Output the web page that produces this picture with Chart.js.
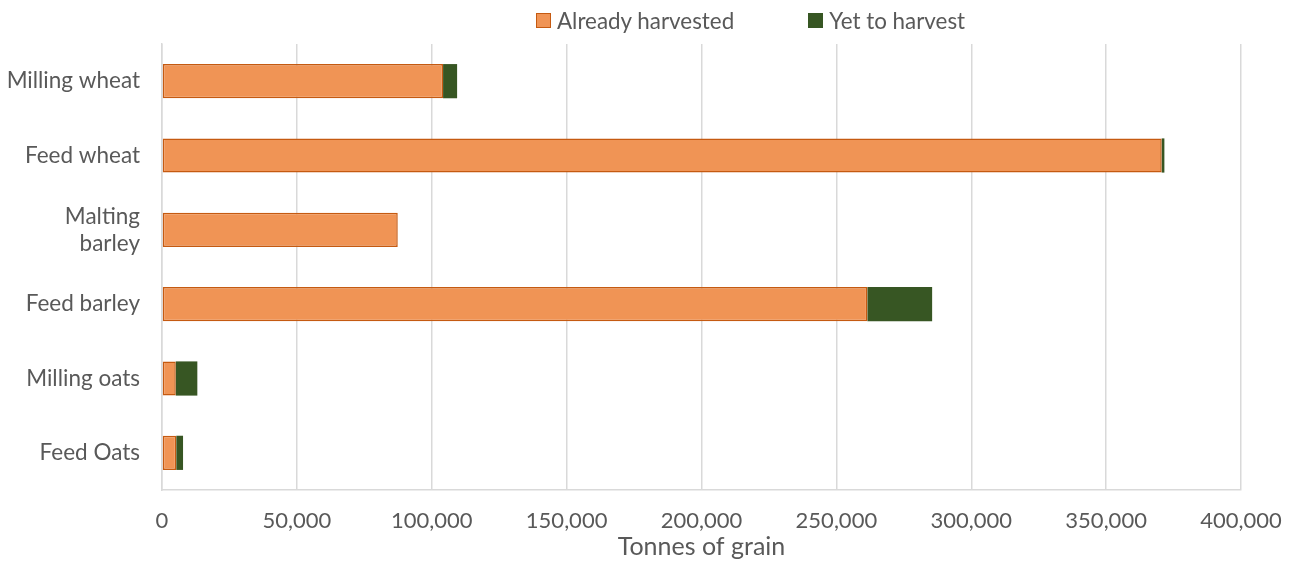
<!DOCTYPE html>
<html>
<head>
<meta charset="utf-8">
<script src="https://cdn.jsdelivr.net/npm/chart.js@4"></script>
<style>
html,body{margin:0;padding:0;background:#fff;}
#wrap{position:relative;width:1293px;height:564px;}
#legend{position:absolute;left:536px;top:7px;display:flex;align-items:center;font-family:Lato,'Liberation Sans',sans-serif;font-size:22.4px;color:#595959;white-space:nowrap;}
#legend .item{display:flex;align-items:center;}
#legend .item + .item{margin-left:74px;}
#legend .box{width:13px;height:13px;margin-right:6px;box-sizing:content-box;}
</style>
</head>
<body>
<div id="wrap"><canvas id="c" width="1293" height="564"></canvas><div id="legend"></div></div>
<script>
const categories = ["Milling wheat", "Feed wheat", ["Malting", "barley"], "Feed barley", "Milling oats", "Feed Oats"];
const alreadyHarvested = [104200, 370600, 87400, 261500, 5100, 5300];
const yetToHarvest = [5200, 1000, 0, 24000, 8000, 2500];
const xTicks = [0, 50000, 100000, 150000, 200000, 250000, 300000, 350000, 400000];
const seriesNames = ["Already harvested", "Yet to harvest"];

const FONT = "Lato, 'Liberation Sans', sans-serif";
const GREY = '#595959';

const chart = new Chart(document.getElementById('c'), {
  type: 'bar',
  data: {
    labels: categories,
    datasets: [
      {
        label: seriesNames[0],
        data: alreadyHarvested,
        backgroundColor: '#F09455',
        borderColor: '#C55A11',
        borderWidth: 1.5,
        borderSkipped: false,
        barPercentage: 0.92,
        categoryPercentage: 0.5
      },
      {
        label: seriesNames[1],
        data: yetToHarvest,
        backgroundColor: '#375623',
        borderColor: '#375623',
        borderWidth: 0,
        barPercentage: 0.92,
        categoryPercentage: 0.5
      }
    ]
  },
  options: {
    indexAxis: 'y',
    responsive: false,
    animation: false,
    layout: { padding: { left: 4, right: 52, top: 44, bottom: 2 } },
    plugins: {
      legend: { display: false },
      tooltip: { enabled: false }
    },
    scales: {
      x: {
        stacked: true,
        min: 0,
        max: 400000,
        afterBuildTicks: (s) => { s.ticks = xTicks.map(v => ({ value: v })); },
        afterFit: (s) => { s.height = 72; s.paddingLeft = 0; s.paddingRight = 0; },
        ticks: {
          font: { family: FONT, size: 22 },
          color: GREY,
          padding: 18,
          maxRotation: 0,
          callback: (v) => v.toLocaleString('en-US')
        },
        grid: { color: '#D9D9D9', lineWidth: 1.5, drawTicks: false },
        border: { color: '#D9D9D9', width: 1.5 },
        title: {
          display: true,
          text: 'Tonnes of grain',
          font: { family: FONT, size: 25 },
          color: GREY,
          padding: { top: 0, bottom: 0 }
        }
      },
      y: {
        stacked: true,
        afterFit: (s) => { s.width = 158; },
        ticks: {
          font: { family: FONT, size: 22.5 },
          color: GREY,
          padding: 22
        },
        grid: { display: false, drawTicks: false },
        border: { color: '#D9D9D9', width: 1.5 }
      }
    }
  }
});

// HTML legend built from dataset styles
const legendEl = document.getElementById('legend');
chart.data.datasets.forEach(ds => {
  const item = document.createElement('div');
  item.className = 'item';
  const box = document.createElement('span');
  box.className = 'box';
  box.style.background = ds.backgroundColor;
  box.style.border = '1px solid ' + ds.borderColor;
  const txt = document.createElement('span');
  txt.textContent = ds.label;
  item.appendChild(box);
  item.appendChild(txt);
  legendEl.appendChild(item);
});
</script>
</body>
</html>
